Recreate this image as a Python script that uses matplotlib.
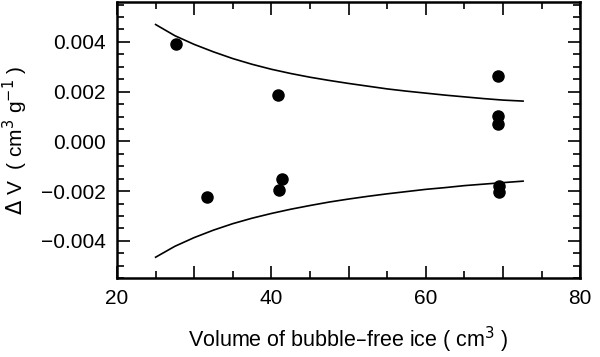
import matplotlib.pyplot as plt
import numpy as np
from matplotlib.ticker import MultipleLocator, FixedLocator

plt.rcParams['font.family'] = ['Liberation Sans', 'DejaVu Sans']

# measured points
vol = [27.7, 31.6, 40.8, 41.0, 41.4, 69.4, 69.4, 69.4, 69.5, 69.5]
dv = [0.0039, -0.00225, 0.00188, -0.00196, -0.0015, 0.00262, 0.00102, 0.00068, -0.0018, -0.00202]

# envelope
env_x = [25, 27.5, 30, 32.5, 35, 37.5, 40, 42.5, 45, 47.5, 50, 52.5, 55, 57.5,
         60, 62.5, 65, 67.5, 70, 72.6]
env_up = [0.0047, 0.00425, 0.0039, 0.0036, 0.00333, 0.0031, 0.0029, 0.00273, 0.00258,
          0.00245, 0.00233, 0.00222, 0.00211, 0.00202, 0.00194, 0.00186, 0.00179,
          0.00172, 0.00166, 0.00162]
env_lo = [-0.00466, -0.00422, -0.00387, -0.00357, -0.00331, -0.00309, -0.0029, -0.00273,
          -0.00258, -0.00244, -0.00232, -0.00221, -0.00211, -0.00202, -0.00193,
          -0.00186, -0.00178, -0.00172, -0.00166, -0.0016]

fig = plt.figure(figsize=(6, 3.57), dpi=100)
ax = fig.add_axes([0.195, 0.221, 0.772, 0.773])

ax.plot(env_x, env_up, color='black', lw=1.2)
ax.plot(env_x, env_lo, color='black', lw=1.2)
ax.plot(vol, dv, 'o', color='black', ms=8)

ax.set_xlim(20, 80)
ax.set_ylim(-0.0055, 0.0056)
ax.xaxis.set_minor_locator(MultipleLocator(5))
ax.set_xticks([20, 30, 40, 50, 60, 70, 80])
ax.set_xticklabels(['20', '', '40', '', '60', '', '80'])
ax.yaxis.set_major_locator(FixedLocator([-0.004, -0.002, 0.0, 0.002, 0.004]))
ax.yaxis.set_minor_locator(MultipleLocator(0.0005))
ax.set_yticklabels(['\u22120.004', '\u22120.002', '0.000', '0.002', '0.004'])

ax.tick_params(which='both', direction='in', top=True, right=True, width=1.2, labelsize=15)
ax.tick_params(which='major', length=9, pad=8)
ax.tick_params(which='minor', length=5)
for s in ax.spines.values():
    s.set_linewidth(1.8)

ax.set_xlabel('Volume of bubble\u2013free ice ( cm$^3$ )', fontsize=15.5, labelpad=12)
ax.set_ylabel('$\\mathit{\\Delta}$ V  ( cm$^3$ g$^{-1}$ )', fontsize=15, labelpad=8)

fig.savefig('out.png')
